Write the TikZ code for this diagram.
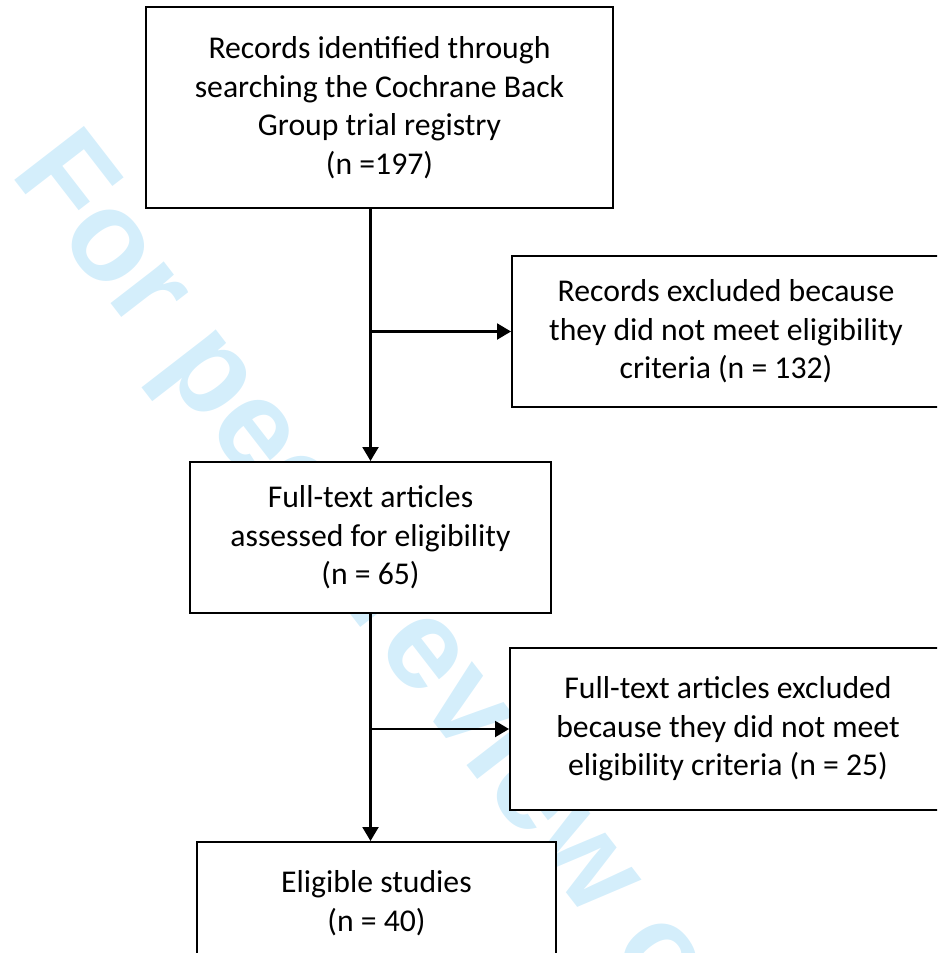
\documentclass[tikz,border=0pt]{standalone}
\usepackage{fontspec}
\setmainfont{Carlito}
\newfontfamily\markfont{Liberation Sans}
\usetikzlibrary{arrows.meta}
\definecolor{markblue}{RGB}{212,238,251}

\begin{document}
\begin{tikzpicture}[
        x=1pt, y=-1pt,
        box/.style={draw, line width=2pt, fill=white, align=center, inner sep=0pt,
          font=\fontsize{31.7}{38.5}\selectfont},
        flow/.style={draw, line width=2.2pt, -{Triangle[width=16pt,length=14pt]}}
      ]
      \useasboundingbox (0,0) rectangle (937,953);
      \clip (0,0) rectangle (937,953);

      % watermark behind the boxes
      \node[text=markblue, inner sep=0pt, anchor=base west, rotate=-52.3,
        font=\markfont\bfseries\fontsize{128}{128}\selectfont] (mark) at (9.5,173) {For peer review only};

      \node[box, minimum width=467pt, minimum height=201pt] (registry) at (379.5,107.5)
        {Records identified through\\searching the Cochrane Back\\Group trial registry\\(n =197)};
      \node[box, minimum width=428pt, minimum height=151pt] (excl1) at (726,331.5)
        {Records excluded because\\they did not meet eligibility\\criteria (n = 132)};
      \node[box, minimum width=361pt, minimum height=151pt] (fulltext) at (370.5,537.5)
        {Full-text articles\\assessed for eligibility\\(n = 65)};
      \node[box, minimum width=436pt, minimum height=162pt] (excl2) at (728,729)
        {Full-text articles excluded\\because they did not meet\\eligibility criteria (n = 25)};
      \node[box, minimum width=359pt, minimum height=122pt] (included) at (376.5,903)
        {Eligible studies\\(n = 40)};

      \draw[flow] (registry.south -| fulltext.north) -- (fulltext.north);
      \draw[flow] (fulltext.north |- excl1.west) -- (excl1.west);
      \draw[flow] (fulltext.south) -- (fulltext.south |- included.north);
      \draw[flow] (fulltext.south |- excl2.west) -- (excl2.west);

      \end{tikzpicture}
\end{document}
